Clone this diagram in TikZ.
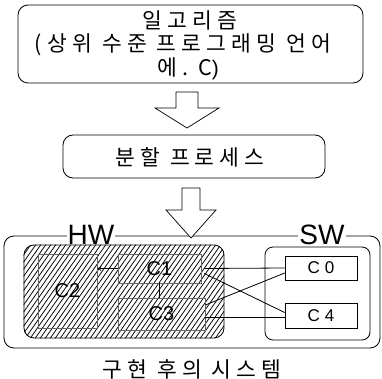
\documentclass[tikz,border=0pt]{standalone}
\usepackage{fontspec}
\setmainfont{Liberation Sans}
\newfontfamily\kr{Noto Sans CJK KR}[LetterSpace=24]
\usetikzlibrary{calc,arrows.meta}
\begin{document}
\begin{tikzpicture}[x=1pt,y=-1pt,
  rbox/.style={draw, rounded corners=10pt, line width=0.8pt, inner sep=0pt},
  sq/.style={draw, line width=0.7pt, inner sep=0pt},
  gsq/.style={draw=black!60, line width=0.7pt, inner sep=0pt},
  krt/.style={font=\kr\fontsize{21.5}{21.5}\selectfont, inner sep=0pt},
  big/.style={font=\fontsize{28}{28}\selectfont, inner sep=1pt, fill=white},
  clab/.style={font=\fontsize{20}{20}\selectfont, inner sep=0pt},
  slab/.style={font=\fontsize{17}{17}\selectfont, inner sep=0pt},
  blk/.style={draw, line width=0.7pt, fill=white, line join=miter},
  hatch/.style={line width=0.75pt},
  wire/.style={line width=0.8pt}]
\useasboundingbox (0,0) rectangle (382,379);

% top box
\node[rbox, minimum width=345pt, minimum height=78pt] (top) at (190.5,44) {};
\node[krt] (t1) at (190,20) {일고리즘};
\node[krt] (t2) at (183,45) {(상위 수준 프로그래밍 언어};
\node[krt] (t3) at (188,69) {에.\ C{\normalfont\fontsize{21}{21}\selectfont)}};

% arrow 1
\draw[blk] (176,92) -- (198,92) -- (198,108) -- (219,108) -- (187,128) -- (155,108) -- (176,108) -- cycle;

% process box
\node[rbox, minimum width=262pt, minimum height=43pt] (proc) at (194,156.5) {};
\node[krt] (pt) at (190,157) {분할 프로세스};

% outer system box
\node[rbox, minimum width=376pt, minimum height=112pt] (sys) at (192,292) {};
\node[big, anchor=base] (hw) at (91,244) {HW};
\node[big, anchor=base] (swl) at (322,244) {SW};

% arrow 2
\draw[blk] (182,188) -- (200,188) -- (200,210) -- (216,210) -- (191,238) -- (166,210) -- (182,210) -- cycle;

% HW hatched block
\node[rbox, minimum width=200pt, minimum height=93pt] (hwb) at (124,291.5) {};
\begin{scope}
  \clip[rounded corners=10pt] (hwb.south west) rectangle (hwb.north east);
  \foreach \i in {-46,-41,...,226} \draw[hatch] (\i,340) -- ++(68,-97);
\end{scope}
\node[gsq, minimum width=59pt, minimum height=74pt] (c2) at (67.5,291) {};
\node[gsq, minimum width=83pt, minimum height=29pt] (c1) at (159.5,268.5) {};
\node[gsq, minimum width=87pt, minimum height=32pt] (c3) at (161.5,314) {};
\node[clab] at (c2) {C2};
\node[clab] at (c1) {C1};
\node[clab] at (c3) {C3};
\draw[wire, -{To[length=4pt,width=5pt]}] (c1.west) -- (c1.west -| c2.east);
\draw[wire] ($(c3.west)+(0,-3)$) -- ($(c3.west)+(0,-3)$ -| c2.east);
\draw[wire] (c1.south) -- (c1.south |- c3.north);

% SW block
\node[rbox, rounded corners=8pt, minimum width=105pt, minimum height=93pt] (swb) at (317.5,293.5) {};
\node[sq, minimum width=72pt, minimum height=24pt, slab] (c0) at (321,268) {C\hspace{5pt}0};
\node[sq, minimum width=72pt, minimum height=25pt, slab] (c4) at (321,315.5) {C\hspace{5pt}4};

% connections
\draw[wire] ($(c1.east)+(3,0)$) -- (c0.west);
\draw[wire] ($(c1.east)+(3,5)$) -- ($(c4.west)+(0,-3)$);
\draw[wire] ($(c3.east)+(0,-9)$) -- ($(c0.west)+(0,5)$);
\draw[wire] ($(c3.east)+(0,3)$) -- ($(c4.west)+(0,1.5)$);

% caption
\node[krt] (cap) at (192,369) {구현 후의 시스템};
\end{tikzpicture}
\end{document}
